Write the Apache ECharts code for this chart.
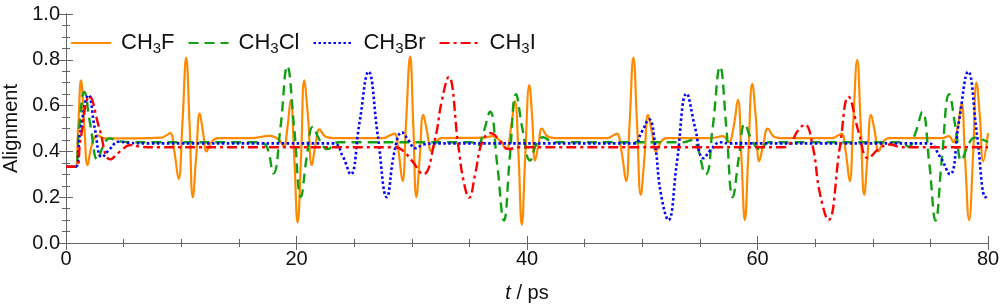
<!DOCTYPE html>
<html>
<head>
<meta charset="utf-8">
<script src="https://cdn.jsdelivr.net/npm/echarts@6/dist/echarts.min.js"></script>
<style>
html,body{margin:0;padding:0;background:#fff;}
#chart{width:1000px;height:308px;}
</style>
</head>
<body>
<div id="chart"></div>
<script>
// Series names (legend labels use rich text for subscripts)
const seriesNames = ['CH3F', 'CH3Cl', 'CH3Br', 'CH3I'];
const legendLabels = ['CH{s|3}F', 'CH{s|3}Cl', 'CH{s|3}Br', 'CH{s|3}I'];

// [t (ps), alignment]
const ch3f = [
  [0,0.333],[0.8,0.333],[1.05,0.5],[1.3,0.71],[1.6,0.5],[1.87,0.34],[2.25,0.43],[2.7,0.47],[3.4,0.457],[6,0.457],
  [8.3,0.46],[8.7,0.47],[9.05,0.48],[9.4,0.40],[9.77,0.28],[10.1,0.52],[10.43,0.81],[10.72,0.52],[11.0,0.20],
  [11.3,0.38],[11.6,0.566],[11.9,0.48],[12.2,0.40],[12.6,0.44],[13.2,0.458],[16,0.458],[17.7,0.468],[18.5,0.45],
  [18.9,0.42],[19.2,0.5],[19.5,0.624],[19.8,0.38],[20.1,0.09],[20.4,0.38],[20.67,0.71],[21.0,0.55],[21.33,0.34],
  [21.65,0.43],[22.0,0.496],[22.5,0.465],[23.2,0.458],[27.5,0.458],[28.1,0.47],[28.5,0.478],[28.85,0.40],[29.2,0.27],
  [29.5,0.52],[29.86,0.815],[30.13,0.52],[30.4,0.20],[30.7,0.38],[31.0,0.56],[31.35,0.48],[31.7,0.40],[32.1,0.44],
  [32.6,0.458],[36.3,0.46],[37.0,0.467],[37.6,0.45],[38.2,0.41],[38.6,0.5],[38.95,0.62],[39.25,0.4],[39.55,0.08],
  [39.85,0.38],[40.2,0.69],[40.45,0.55],[40.7,0.36],[41.0,0.43],[41.3,0.50],[41.8,0.465],[42.5,0.458],[47,0.458],
  [47.5,0.47],[47.8,0.478],[48.2,0.40],[48.6,0.27],[48.9,0.52],[49.23,0.81],[49.55,0.52],[49.87,0.21],[50.2,0.38],
  [50.5,0.56],[50.85,0.48],[51.2,0.40],[51.6,0.44],[52.1,0.458],[56,0.458],[57.0,0.467],[57.5,0.44],[57.9,0.5],
  [58.3,0.625],[58.6,0.38],[58.9,0.10],[59.2,0.38],[59.55,0.695],[59.85,0.55],[60.15,0.357],[60.5,0.43],[60.9,0.50],
  [61.4,0.465],[62,0.458],[66.5,0.458],[67.0,0.47],[67.3,0.478],[67.65,0.40],[68.0,0.27],[68.3,0.52],[68.65,0.80],
  [68.95,0.52],[69.26,0.21],[69.55,0.38],[69.85,0.56],[70.2,0.48],[70.5,0.40],[70.9,0.44],[71.4,0.458],[76.0,0.458],
  [76.6,0.467],[77.0,0.44],[77.35,0.5],[77.7,0.61],[78.0,0.38],[78.36,0.10],[78.7,0.38],[79.0,0.70],[79.3,0.55],
  [79.58,0.357],[80,0.48]
];
const ch3cl = [
  [0,0.333],[0.8,0.333],[1.1,0.48],[1.59,0.66],[2.1,0.52],[2.74,0.362],[3.2,0.42],[3.78,0.457],[4.5,0.445],[6,0.44],
  [16.5,0.44],[17.3,0.43],[18.0,0.304],[18.6,0.5],[19.2,0.773],[19.8,0.5],[20.38,0.202],[20.9,0.38],[21.42,0.508],
  [22.0,0.45],[22.7,0.41],[23.6,0.44],[35.2,0.44],[35.7,0.425],[36.2,0.48],[36.8,0.573],[37.4,0.35],[38.0,0.098],
  [38.5,0.37],[39.05,0.65],[39.6,0.5],[40.27,0.36],[40.8,0.43],[41.4,0.462],[42.3,0.44],[53.5,0.44],[54.3,0.45],
  [55.5,0.30],[56.1,0.5],[56.75,0.77],[57.3,0.5],[57.85,0.20],[58.4,0.38],[58.9,0.52],[59.5,0.45],[60.2,0.41],
  [61,0.44],[72.5,0.44],[73.1,0.42],[73.7,0.48],[74.3,0.573],[74.9,0.35],[75.45,0.098],[76.0,0.37],[76.63,0.65],
  [77.2,0.5],[77.7,0.36],[78.3,0.43],[78.86,0.46],[80,0.44]
];
const ch3br = [
  [0,0.333],[0.85,0.333],[1.2,0.47],[1.96,0.646],[2.5,0.5],[3.12,0.375],[3.8,0.41],[4.56,0.442],[5.5,0.437],[7,0.435],
  [23.2,0.435],[24.0,0.38],[24.7,0.30],[25.45,0.52],[26.25,0.748],[27.05,0.47],[27.84,0.20],[28.5,0.40],[29.14,0.483],
  [29.7,0.45],[30.3,0.414],[31.0,0.43],[32,0.435],[49.3,0.435],[49.9,0.48],[50.6,0.54],[51.1,0.435],[51.6,0.22],
  [52.27,0.10],[53.0,0.35],[53.85,0.652],[54.6,0.5],[55.3,0.37],[56.0,0.41],[56.75,0.44],[57.5,0.435],[74.8,0.435],
  [75.8,0.38],[76.7,0.30],[77.45,0.52],[78.28,0.748],[79.05,0.47],[79.8,0.20],[80,0.21]
];
const ch3i = [
  [0,0.333],[0.85,0.333],[1.25,0.45],[2.05,0.64],[2.9,0.5],[3.84,0.365],[4.7,0.40],[5.58,0.428],[6.5,0.42],[8,0.418],
  [28.6,0.418],[29.3,0.40],[30.0,0.36],[31.0,0.30],[32.0,0.45],[32.6,0.62],[33.2,0.725],[34.05,0.42],[34.5,0.27],
  [34.98,0.198],[35.5,0.30],[36.1,0.44],[36.86,0.48],[37.6,0.45],[38.4,0.41],[39.3,0.418],[62.3,0.418],[62.9,0.44],
  [63.5,0.49],[64.1,0.517],[64.8,0.42],[65.4,0.22],[66.15,0.10],[67.15,0.42],[67.9,0.638],[68.8,0.48],[69.6,0.37],
  [70.5,0.41],[71.5,0.43],[72.5,0.418],[80,0.418]
];

const seriesData = [ch3f, ch3cl, ch3br, ch3i];
const colors = ['#ff8a00', '#12a012', '#0000ff', '#ff0000'];
const lineTypes = ['solid', [10, 6], [2.5, 2.5], [10, 4, 3, 4]];
const lineWidths = [2.2, 2.4, 2.6, 2.4];

const FONT = '"Liberation Sans", Arial, Helvetica, sans-serif';
const frameColor = '#666';

const chart = echarts.init(document.getElementById('chart'), null, {renderer: 'canvas'});

function axisCommon(showLabels) {
  return {
    axisLine: {show: true, lineStyle: {color: frameColor, width: 1}},
    axisTick: {show: true, inside: true, length: 7, lineStyle: {color: frameColor}},
    minorTick: {show: true, splitNumber: 4, length: 4, lineStyle: {color: frameColor}},
    splitLine: {show: false},
    axisLabel: {show: showLabels, fontFamily: FONT, fontSize: 20, color: '#111'}
  };
}

const option = {
  animation: false,
  backgroundColor: '#fff',
  color: colors,
  grid: {left: 66, right: 12, top: 14, bottom: 65, containLabel: false, outerBoundsMode: 'none'},
  legend: {
    left: 65, top: 27,
    itemWidth: 40, itemHeight: 12, itemGap: 13,
    data: seriesNames,
    itemStyle: {opacity: 0},
    formatter: function (name) { return legendLabels[seriesNames.indexOf(name)]; },
    textStyle: {
      fontFamily: FONT, fontSize: 22, color: '#111', padding: [0, 0, 0, 5],
      rich: {s: {fontFamily: FONT, fontSize: 15, padding: [11, 0, 0, 0], color: '#111'}}
    }
  },
  xAxis: [
    Object.assign({
      type: 'value', position: 'bottom', min: 0, max: 80, interval: 20,
      name: '{i|t} / ps', nameLocation: 'middle', nameGap: 40,
      nameTextStyle: {fontFamily: FONT, fontSize: 20, color: '#111',
        rich: {i: {fontFamily: FONT, fontSize: 20, fontStyle: 'italic', color: '#111'}}}
    }, axisCommon(true)),
    Object.assign({type: 'value', position: 'top', min: 0, max: 80, interval: 20}, axisCommon(false))
  ],
  yAxis: [
    Object.assign({
      type: 'value', position: 'left', min: 0, max: 1, interval: 0.2,
      name: 'Alignment', nameLocation: 'middle', nameGap: 45, nameRotate: 90,
      nameTextStyle: {fontFamily: FONT, fontSize: 20, color: '#111'}
    }, axisCommon(true)),
    Object.assign({type: 'value', position: 'right', min: 0, max: 1, interval: 0.2}, axisCommon(false))
  ],
  series: seriesNames.map((name, i) => ({
    name: name,
    type: 'line',
    xAxisIndex: 0, yAxisIndex: 0,
    data: seriesData[i],
    smooth: 0.45,
    symbol: 'none',
    z: 2 + i,
    lineStyle: {color: colors[i], width: lineWidths[i], type: lineTypes[i]},
    itemStyle: {color: colors[i]}
  }))
};
option.yAxis[0].axisLabel.formatter = v => v.toFixed(1);
option.yAxis[0].axisLabel.margin = 6;
option.xAxis[0].axisLabel.margin = 6;
chart.setOption(option);
</script>
</body>
</html>
